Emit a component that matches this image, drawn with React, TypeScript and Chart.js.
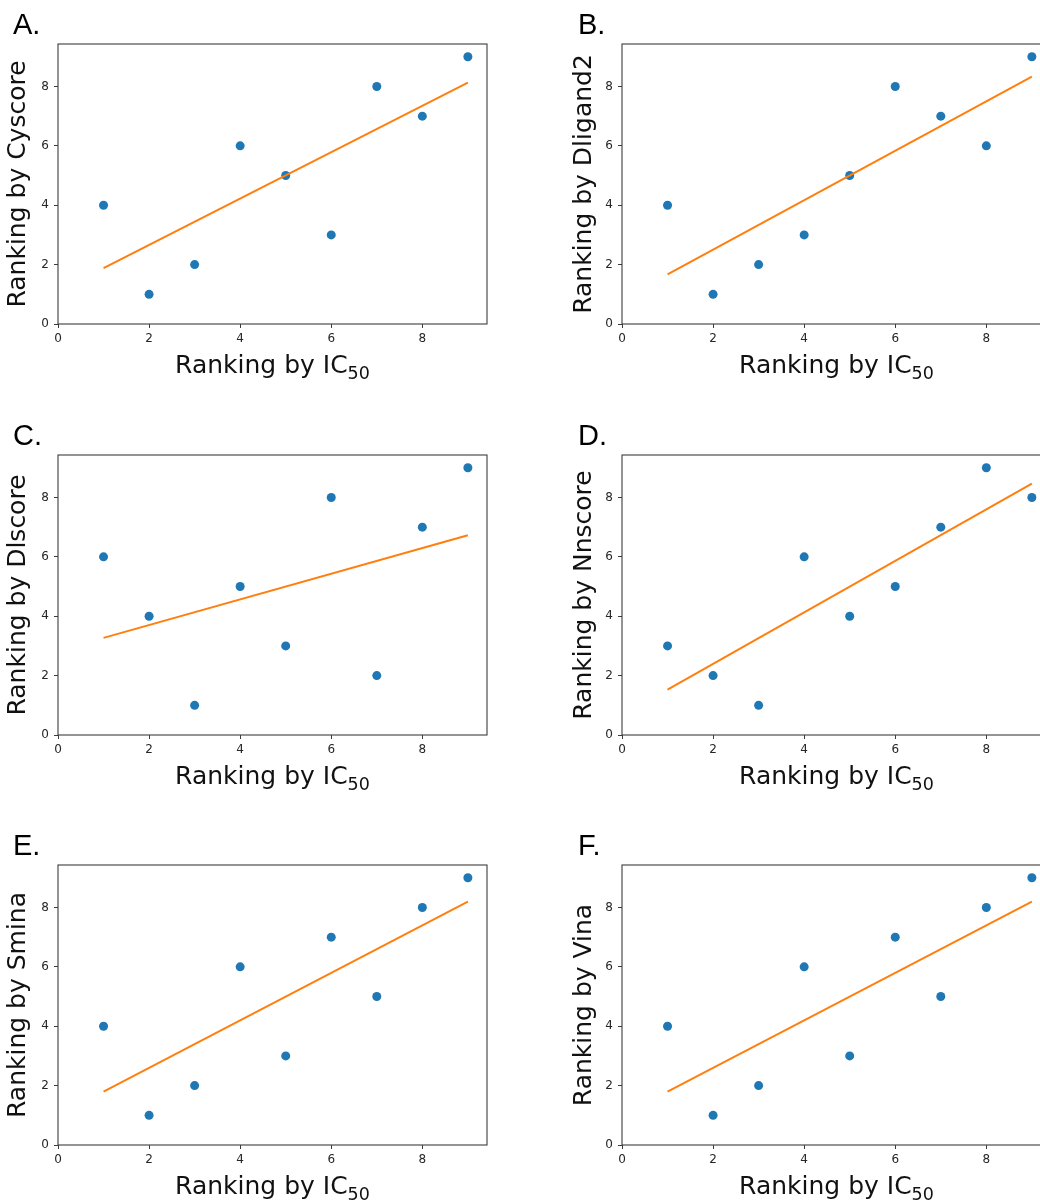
import React, { useEffect, useRef } from "react";
import { Chart, registerables } from "chart.js";

Chart.register(...registerables);

// ---- data ----
const icRank = [1, 2, 3, 4, 5, 6, 7, 8, 9];
const cyscore = [4, 1, 2, 6, 5, 3, 8, 7, 9];
const dligand2 = [4, 1, 2, 3, 5, 8, 7, 6, 9];
const dlscore = [6, 4, 1, 5, 3, 8, 2, 7, 9];
const nnscore = [3, 2, 1, 6, 4, 5, 7, 9, 8];
const smina = [4, 1, 2, 6, 3, 7, 5, 8, 9];
const vina = [4, 1, 2, 6, 3, 7, 5, 8, 9];

// fitted line end points (at x = 1 and x = 9)
const fitX = [1, 9];
const cyscoreFit = [1.88, 8.13];
const dligand2Fit = [1.67, 8.33];
const dlscoreFit = [3.27, 6.73];
const nnscoreFit = [1.53, 8.47];
const sminaFit = [1.8, 8.2];
const vinaFit = [1.8, 8.2];

const xTicks = [0, 2, 4, 6, 8];
const yTicks = [0, 2, 4, 6, 8];
const xMax = 9.42;
const yMax = 9.43;

const panelLetters = ["A.", "B.", "C.", "D.", "E.", "F."];
const scoreNames = ["Cyscore", "Dligand2", "Dlscore", "Nnscore", "Smina", "Vina"];
const scoreValues = [cyscore, dligand2, dlscore, nnscore, smina, vina];
const scoreFits = [cyscoreFit, dligand2Fit, dlscoreFit, nnscoreFit, sminaFit, vinaFit];

const FAMILY = '"DejaVu Sans", sans-serif';
const TITLE_SIZE = 25;
const SUB_SIZE = 17.5;
const CANVAS_W = 520;
const CANVAS_H = 410;
const ROW_TOPS = [0, 411, 821];
const COL_LEFTS = [0, 564];

function Panel({ index }: { index: number }) {
  const ref = useRef<HTMLCanvasElement>(null);
  const col = index % 2;
  const row = Math.floor(index / 2);
  useEffect(() => {
    const canvas = ref.current;
    if (!canvas) return;
    const letter = panelLetters[index];
    const values = scoreValues[index];
    const fit = scoreFits[index];
    const deco = {
      id: "deco",
      afterDraw(chart: any) {
        const { ctx, chartArea: a } = chart;
        ctx.save();
        ctx.strokeStyle = "#3c3c3c";
        ctx.lineWidth = 1.1;
        ctx.strokeRect(a.left, a.top, a.right - a.left, a.bottom - a.top);
        ctx.fillStyle = "#111";
        ctx.textBaseline = "alphabetic";
        ctx.textAlign = "left";
        const main = "Ranking by IC";
        const sub = "50";
        ctx.font = `${TITLE_SIZE}px ${FAMILY}`;
        const w1 = ctx.measureText(main).width;
        ctx.font = `${SUB_SIZE}px ${FAMILY}`;
        const w2 = ctx.measureText(sub).width;
        const cx = (a.left + a.right) / 2;
        const x0 = cx - (w1 + w2) / 2;
        const by = a.bottom + 49;
        ctx.font = `${TITLE_SIZE}px ${FAMILY}`;
        ctx.fillText(main, x0, by);
        ctx.font = `${SUB_SIZE}px ${FAMILY}`;
        ctx.fillText(sub, x0 + w1, by + 5.5);
        ctx.fillStyle = "#000";
        ctx.font = '29px "Liberation Sans", Arial, sans-serif';
        ctx.fillText(letter, col === 0 ? 13 : 14, 34);
        ctx.restore();
      },
    };
    const tickFont = { size: 12, family: FAMILY };
    const chart = new Chart(canvas, {
      type: "scatter",
      data: {
        datasets: [
          {
            data: fitX.map((x, i) => ({ x, y: fit[i] })),
            showLine: true,
            borderColor: "#ff7f0e",
            borderWidth: 2,
            pointRadius: 0,
            order: 0,
          } as any,
          {
            data: icRank.map((x, i) => ({ x, y: values[i] })),
            backgroundColor: "#1f77b4",
            borderWidth: 0,
            pointRadius: 4.5,
            order: 1,
          },
        ],
      },
      options: {
        animation: false,
        responsive: false,
        layout: { padding: { top: 44, right: 33, left: 0, bottom: 0 } },
        plugins: { legend: { display: false }, tooltip: { enabled: false } },
        scales: {
          x: {
            type: "linear",
            min: 0,
            max: xMax,
            afterFit: (s: any) => {
              s.height = 86;
            },
            afterBuildTicks: (s: any) => {
              s.ticks = xTicks.map((v) => ({ value: v }));
            },
            ticks: { font: tickFont, color: "#262626", padding: 4, maxRotation: 0, autoSkip: false },
            grid: { drawOnChartArea: false, drawTicks: true, tickLength: 4, color: "#3c3c3c" },
            border: { display: false },
          },
          y: {
            type: "linear",
            min: 0,
            max: yMax,
            afterFit: (s: any) => {
              s.width = 58;
            },
            afterBuildTicks: (s: any) => {
              s.ticks = yTicks.map((v) => ({ value: v }));
            },
            ticks: { font: tickFont, color: "#262626", padding: 5, autoSkip: false },
            grid: { drawOnChartArea: false, drawTicks: true, tickLength: 4, color: "#3c3c3c" },
            border: { display: false },
            title: {
              display: true,
              text: `Ranking by ${scoreNames[index]}`,
              color: "#111",
              font: { size: TITLE_SIZE, family: FAMILY, lineHeight: 1 },
              padding: { top: col === 0 ? 5.5 : 7.5, bottom: 0 },
            },
          },
        },
      } as any,
      plugins: [deco],
    });
    return () => chart.destroy();
  }, [index]);
  return (
    <canvas
      ref={ref}
      width={CANVAS_W}
      height={CANVAS_H}
      style={{
        position: "absolute",
        left: COL_LEFTS[col],
        top: ROW_TOPS[row],
        width: CANVAS_W,
        height: CANVAS_H,
      }}
    />
  );
}

export default function App() {
  return (
    <div
      style={{
        position: "fixed",
        left: 0,
        top: 0,
        width: 1040,
        height: 1203,
        overflow: "hidden",
        background: "#fff",
      }}
    >
      {panelLetters.map((_, i) => (
        <Panel key={i} index={i} />
      ))}
    </div>
  );
}
